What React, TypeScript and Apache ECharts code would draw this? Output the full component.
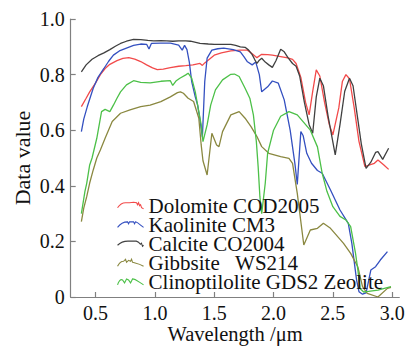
import React, { useEffect, useRef } from "react";
import * as echarts from "echarts";

// ---- Data ----
const xTicks = [0.5, 1.0, 1.5, 2.0, 2.5, 3.0];

const seriesNames = [
  "Dolomite COD2005",
  "Kaolinite CM3",
  "Calcite CO2004",
  "Gibbsite   WS214",
  "Clinoptilolite GDS2 Zeolite",
];

const dolomiteWl = [0.38, 0.42, 0.45, 0.5, 0.54, 0.58, 0.62, 0.68, 0.73, 0.78, 0.83, 0.88, 0.93, 0.98, 1.02, 1.07, 1.13, 1.2, 1.26, 1.32, 1.38, 1.4, 1.42, 1.5, 1.56, 1.64, 1.72, 1.78, 1.82, 1.86, 1.9, 1.95, 1.99, 2.06, 2.12, 2.16, 2.19, 2.23, 2.27, 2.3, 2.33, 2.36, 2.39, 2.43, 2.47, 2.5, 2.55, 2.58, 2.61, 2.64, 2.68, 2.72, 2.77, 2.81, 2.85, 2.88, 2.93, 2.97];
const dolomiteVal = [0.685, 0.715, 0.738, 0.77, 0.8, 0.822, 0.837, 0.85, 0.858, 0.861, 0.856, 0.847, 0.835, 0.824, 0.818, 0.82, 0.825, 0.83, 0.832, 0.835, 0.84, 0.833, 0.842, 0.87, 0.878, 0.885, 0.888, 0.888, 0.875, 0.861, 0.873, 0.872, 0.87, 0.865, 0.86, 0.855, 0.84, 0.79, 0.7, 0.655, 0.74, 0.817, 0.795, 0.7, 0.62, 0.583, 0.68, 0.775, 0.8, 0.785, 0.68, 0.56, 0.469, 0.475, 0.481, 0.493, 0.475, 0.459];

const kaoliniteWl = [0.38, 0.4, 0.43, 0.46, 0.48, 0.52, 0.57, 0.61, 0.65, 0.7, 0.76, 0.82, 0.88, 0.93, 0.95, 0.97, 1.05, 1.13, 1.2, 1.23, 1.25, 1.27, 1.29, 1.31, 1.34, 1.36, 1.38, 1.4, 1.42, 1.44, 1.48, 1.53, 1.58, 1.66, 1.72, 1.75, 1.78, 1.82, 1.85, 1.88, 1.9, 1.95, 1.99, 2.04, 2.09, 2.14, 2.18, 2.2, 2.23, 2.25, 2.28, 2.32, 2.37, 2.41, 2.48, 2.56, 2.63, 2.66, 2.7, 2.72, 2.75, 2.78, 2.82, 2.86, 2.9, 2.96];
const kaoliniteVal = [0.595, 0.64, 0.685, 0.725, 0.751, 0.79, 0.822, 0.848, 0.87, 0.885, 0.895, 0.905, 0.91, 0.909, 0.892, 0.912, 0.913, 0.913, 0.906, 0.888, 0.905, 0.89, 0.845, 0.775, 0.72, 0.69, 0.637, 0.575, 0.775, 0.859, 0.888, 0.893, 0.895, 0.89, 0.882, 0.865, 0.846, 0.835, 0.845, 0.8, 0.738, 0.756, 0.777, 0.769, 0.709, 0.6, 0.48, 0.405, 0.595, 0.58, 0.517, 0.481, 0.455, 0.445, 0.385, 0.313, 0.265, 0.193, 0.061, 0.019, 0.01, 0.015, 0.097, 0.109, 0.133, 0.163];

const calciteWl = [0.38, 0.42, 0.47, 0.52, 0.57, 0.62, 0.67, 0.71, 0.76, 0.82, 0.88, 0.94, 0.99, 1.05, 1.1, 1.15, 1.2, 1.26, 1.3, 1.38, 1.45, 1.5, 1.56, 1.64, 1.68, 1.72, 1.76, 1.79, 1.82, 1.84, 1.86, 1.88, 1.9, 1.93, 1.96, 1.99, 2.02, 2.06, 2.09, 2.12, 2.16, 2.19, 2.22, 2.26, 2.3, 2.33, 2.36, 2.39, 2.42, 2.46, 2.52, 2.56, 2.6, 2.64, 2.67, 2.71, 2.74, 2.78, 2.82, 2.86, 2.88, 2.92, 2.97];
const calciteVal = [0.81, 0.835, 0.855, 0.868, 0.878, 0.89, 0.903, 0.912, 0.92, 0.927, 0.926, 0.923, 0.921, 0.922, 0.921, 0.92, 0.921, 0.921, 0.92, 0.912, 0.91, 0.909, 0.909, 0.909, 0.905, 0.9, 0.898, 0.888, 0.872, 0.855, 0.84, 0.852, 0.859, 0.845, 0.835, 0.826, 0.85, 0.891, 0.882, 0.862, 0.84, 0.83, 0.795, 0.7, 0.62, 0.589, 0.72, 0.787, 0.76, 0.65, 0.511, 0.62, 0.74, 0.787, 0.76, 0.64, 0.55, 0.463, 0.485, 0.52, 0.523, 0.495, 0.535];

const gibbsiteWl = [0.38, 0.4, 0.425, 0.45, 0.48, 0.51, 0.54, 0.58, 0.64, 0.71, 0.79, 0.88, 0.96, 1.05, 1.13, 1.19, 1.215, 1.24, 1.28, 1.326, 1.37, 1.39, 1.405, 1.44, 1.48, 1.52, 1.54, 1.57, 1.64, 1.71, 1.76, 1.81, 1.86, 1.9, 1.96, 2.06, 2.13, 2.16, 2.2, 2.255, 2.31, 2.37, 2.42, 2.48, 2.59, 2.65, 2.71, 2.75, 2.79, 2.88, 2.96, 2.99];
const gibbsiteVal = [0.271, 0.32, 0.361, 0.41, 0.457, 0.5, 0.529, 0.571, 0.631, 0.661, 0.673, 0.685, 0.69, 0.703, 0.72, 0.735, 0.738, 0.733, 0.715, 0.703, 0.643, 0.547, 0.49, 0.439, 0.589, 0.547, 0.541, 0.595, 0.655, 0.667, 0.643, 0.613, 0.577, 0.541, 0.517, 0.505, 0.499, 0.481, 0.373, 0.187, 0.241, 0.247, 0.265, 0.247, 0.193, 0.157, 0.109, 0.037, 0.013, 0.0, 0.031, 0.035];

const clinoWl = [0.38, 0.41, 0.425, 0.45, 0.47, 0.51, 0.55, 0.58, 0.62, 0.65, 0.68, 0.71, 0.76, 0.82, 0.88, 0.96, 1.05, 1.13, 1.15, 1.18, 1.21, 1.26, 1.28, 1.31, 1.34, 1.37, 1.39, 1.405, 1.44, 1.47, 1.51, 1.57, 1.64, 1.67, 1.71, 1.76, 1.8, 1.83, 1.855, 1.87, 1.885, 1.9, 1.93, 1.95, 2.0, 2.06, 2.13, 2.2, 2.31, 2.37, 2.41, 2.45, 2.5, 2.56, 2.61, 2.65, 2.69, 2.71, 2.73, 2.76, 2.8, 2.88, 2.95, 2.99];
const clinoVal = [0.3, 0.38, 0.409, 0.475, 0.5, 0.571, 0.667, 0.675, 0.667, 0.69, 0.715, 0.738, 0.763, 0.778, 0.772, 0.77, 0.776, 0.778, 0.761, 0.778, 0.787, 0.799, 0.805, 0.787, 0.738, 0.667, 0.619, 0.559, 0.619, 0.69, 0.745, 0.781, 0.801, 0.802, 0.793, 0.751, 0.715, 0.655, 0.559, 0.47, 0.36, 0.3, 0.409, 0.517, 0.6, 0.65, 0.667, 0.655, 0.6, 0.54, 0.445, 0.38, 0.325, 0.29, 0.277, 0.253, 0.16, 0.1, 0.03, 0.018, 0.02, 0.025, 0.033, 0.037];

// ---- Styling ----
const colors = ["#f24a4a", "#3450c0", "#404040", "#8a8840", "#4cc048"];
const legendIcons = [
  "path://M0,9 C2,6 4,4 8,4 L12,4 L16,3.6 L19,4 L20,6 L21,4 L22,7 L23,6 L24,9 L26,10",
  "path://M0,8 C3,4 6,2.5 10,2.5 L11,4.5 L12,2.5 L16,2.5 L17,4.5 L18,2.5 C21,3.5 23,6 26,8",
  "path://M0,6 C3,3 6,2 10,2 L18,2 C20,2.5 21,3.5 22,5 L23,4 L24,7 L25,6",
  "path://M0,9 C2,5 4,4 6,4 L8,2 L9,5 L11,3 L13,4 L14,2 L15,5 C18,6 21,6 26,9",
  "path://M0,9 C1,5 3,3 5,4 L7,7 L9,3 L11,4 L13,7 L15,3 C18,3 21,6 26,9",
];

const FONT = "'Liberation Serif', serif";

function zip(xs: number[], ys: number[]) {
  return xs.map((x, i) => [x, ys[i]]);
}

export default function App() {
  const ref = useRef<HTMLDivElement>(null);
  useEffect(() => {
    if (!ref.current) return;
    const chart = echarts.init(ref.current, undefined, { renderer: "svg" });
    const datasets = [
      zip(dolomiteWl, dolomiteVal),
      zip(kaoliniteWl, kaoliniteVal),
      zip(calciteWl, calciteVal),
      zip(gibbsiteWl, gibbsiteVal),
      zip(clinoWl, clinoVal),
    ];
    chart.setOption({
      animation: false,
      backgroundColor: "#ffffff",
      grid: { left: 70.7, right: 13.7, top: 19, bottom: 49, containLabel: false, outerBoundsMode: "none" },
      legend: {
        orient: "vertical",
        left: 117,
        top: 195,
        padding: 0,
        itemWidth: 26,
        itemHeight: 10,
        itemGap: -1.9,
        textStyle: { fontFamily: FONT, fontSize: 21, color: "#111", lineHeight: 19.3 },
        data: seriesNames.map((n, i) => ({
          name: n,
          icon: legendIcons[i],
          itemStyle: { color: "transparent", borderColor: colors[i], borderWidth: 1.1 },
        })),
      },
      xAxis: {
        type: "value",
        min: 0.29,
        max: 3.06,
        name: "Wavelength /\u03bcm",
        nameLocation: "middle",
        nameGap: 26,
        nameMoveOverlap: false,
        nameTextStyle: { fontFamily: FONT, fontSize: 20.5, color: "#111" },
        axisLine: { show: true, onZero: false, lineStyle: { color: "#808080", width: 1.2 } },
        axisTick: { show: true, inside: true, length: 5, customValues: xTicks, lineStyle: { color: "#808080", width: 1.2 } },
        axisLabel: {
          customValues: xTicks,
          formatter: (v: number) => v.toFixed(1),
          fontFamily: FONT,
          fontSize: 20,
          color: "#111",
          margin: 6,
        },
        splitLine: { show: false },
      },
      yAxis: {
        type: "value",
        min: 0,
        max: 1,
        interval: 0.2,
        name: "Data value",
        nameLocation: "middle",
        nameGap: 37,
        nameMoveOverlap: false,
        nameRotate: 90,
        nameTextStyle: { fontFamily: FONT, fontSize: 22, color: "#111" },
        axisLine: { show: true, onZero: false, lineStyle: { color: "#808080", width: 1.2 } },
        axisTick: { show: true, inside: true, length: 5, lineStyle: { color: "#808080", width: 1.2 } },
        axisLabel: {
          formatter: (v: number) => (v === 0 ? "0" : v.toFixed(1)),
          fontFamily: FONT,
          fontSize: 20,
          color: "#111",
          margin: 6,
        },
        splitLine: { show: false },
      },
      series: seriesNames.map((n, i) => ({
        name: n,
        type: "line",
        data: datasets[i],
        showSymbol: false,
        symbol: "none",
        color: colors[i],
        lineStyle: { color: colors[i], width: 1.3 },
        z: 2,
      })),
    });
    return () => chart.dispose();
  }, []);
  return <div ref={ref} style={{ width: 413, height: 346, position: "absolute", left: 0, top: 0 }} />;
}
